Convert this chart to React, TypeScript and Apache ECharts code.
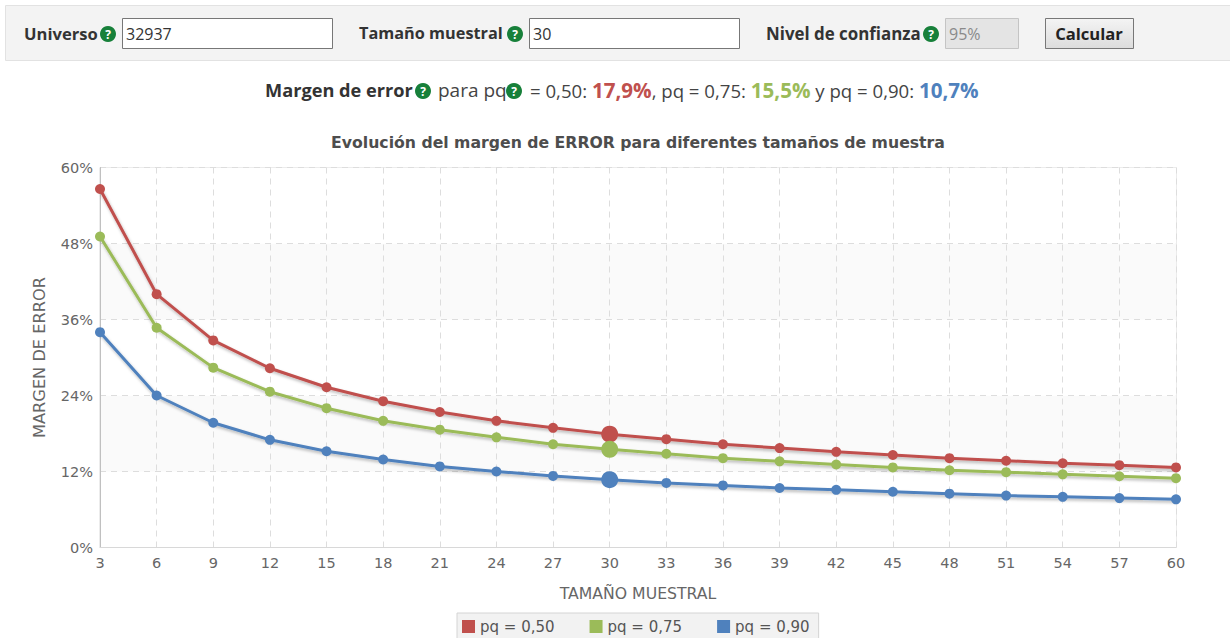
import React, { useEffect, useRef } from "react";
import * as echarts from "echarts";

const sampleSizes = ["3","6","9","12","15","18","21","24","27","30","33","36","39","42","45","48","51","54","57","60"];
const pq50 = [56.6,40.0,32.7,28.3,25.3,23.1,21.4,20.0,18.9,17.9,17.1,16.3,15.7,15.1,14.6,14.1,13.7,13.3,13.0,12.65];
const pq75 = [49.1,34.7,28.4,24.6,22.0,20.0,18.6,17.4,16.3,15.5,14.8,14.1,13.6,13.1,12.65,12.2,11.9,11.55,11.25,10.95];
const pq90 = [34.0,24.0,19.7,17.0,15.2,13.9,12.8,12.0,11.3,10.7,10.2,9.8,9.4,9.1,8.8,8.5,8.2,8.0,7.8,7.6];
const seriesNames = ["pq = 0,50","pq = 0,75","pq = 0,90"];
const seriesColors = ["#c0504d","#9bbb59","#4f81bd"];
const highlightedSize = "30";

const UI_FONT = "'Open Sans', 'Noto Sans', sans-serif";
const CHART_FONT = "'DejaVu Sans', Verdana, sans-serif";

function helpIcon(cx: number, cy: number) {
  return [
    { type: "circle", shape: { cx, cy, r: 8 }, style: { fill: "#17803a" } },
    { type: "text", x: cx, y: cy, style: { text: "?", fill: "#fff", font: `bold 12px ${UI_FONT}`, align: "center", verticalAlign: "middle" } },
  ];
}

function label(text: string, x: number, y: number, size = 16.6) {
  return { type: "text", x, y, style: { text, fill: "#333", font: `bold ${size}px ${UI_FONT}`, verticalAlign: "middle" } };
}

function input(x: number, w: number, text: string, disabled = false) {
  return [
    { type: "rect", shape: { x: x + 0.5, y: 18.5, width: w, height: 30 }, style: { fill: disabled ? "#e4e4e4" : "#fff", stroke: disabled ? "#c4c4c4" : "#777", lineWidth: 1 } },
    { type: "text", x: x + 4, y: 34, style: { text, fill: disabled ? "#8a8a8a" : "#333", font: `16px ${UI_FONT}`, verticalAlign: "middle" } },
  ];
}

function makeSeries(name: string, values: number[], color: string) {
  return {
    name,
    type: "line",
    smooth: false,
    symbol: "circle",
    symbolSize: 10,
    showSymbol: true,
    lineStyle: { color, width: 3, shadowColor: "rgba(0,0,0,0.28)", shadowBlur: 3, shadowOffsetX: 1, shadowOffsetY: 2 },
    itemStyle: { color },
    data: values.map((value, i) => sampleSizes[i] === highlightedSize ? { value, symbolSize: 17 } : value),
  };
}

export default function App() {
  const ref = useRef<HTMLDivElement>(null);
  useEffect(() => {
    document.body.style.margin = "0";
    const chart = echarts.init(ref.current!, null, { renderer: "svg" });
    chart.setOption({
      animation: false,
      backgroundColor: "#fff",
      textStyle: { fontFamily: CHART_FONT },
      title: {
        text: "Evolución del margen de ERROR para diferentes tamaños de muestra",
        left: 638, top: 134, textAlign: "center", padding: 0,
        textStyle: { fontFamily: CHART_FONT, fontSize: 15.7, fontWeight: "bold", color: "#4d4d4d" },
      },
      legend: {
        left: 457, top: 613, itemWidth: 13, itemHeight: 13, itemGap: 35, padding: [6, 9, 6, 5],
        backgroundColor: "#f2f2f2", borderColor: "#d4d4d4", borderWidth: 1, icon: "rect",
        data: seriesNames,
        textStyle: { fontFamily: CHART_FONT, fontSize: 15, color: "#555", padding: [0, 0, 0, 0] },
      },
      grid: { left: 100, right: 54, top: 167.5, bottom: 90.5, show: true, borderColor: "#d8d8d8", borderWidth: 1, backgroundColor: "transparent" },
      xAxis: {
        type: "category", boundaryGap: false, data: sampleSizes,
        name: "TAMAÑO MUESTRAL", nameLocation: "middle", nameGap: 38,
        nameTextStyle: { fontFamily: CHART_FONT, fontSize: 15.7, color: "#666" },
        axisTick: { show: false },
        axisLine: { lineStyle: { color: "#d8d8d8", width: 1 } },
        axisLabel: { interval: 0, color: "#666", fontSize: 14.5, margin: 8, fontFamily: CHART_FONT },
        splitLine: { show: true, interval: 0, lineStyle: { color: "#dddddd", type: [6, 5], width: 1 } },
      },
      yAxis: {
        type: "value", min: 0, max: 60, interval: 12,
        name: "MARGEN DE ERROR", nameLocation: "middle", nameGap: 53, nameRotate: 90,
        nameTextStyle: { fontFamily: CHART_FONT, fontSize: 16.2, color: "#666" },
        axisTick: { show: false },
        axisLine: { show: true, lineStyle: { color: "#c0c0c0", width: 1 } },
        axisLabel: { formatter: "{value}%", color: "#666", fontSize: 14.5, margin: 7, padding: [2, 0, 0, 0], fontFamily: CHART_FONT },
        splitLine: { show: true, lineStyle: { color: "#dddddd", type: [6, 5], width: 1 } },
        splitArea: { show: true, areaStyle: { color: ["#ffffff", "#fafafa"] } },
      },
      series: [
        makeSeries(seriesNames[0], pq50, seriesColors[0]),
        makeSeries(seriesNames[1], pq75, seriesColors[1]),
        makeSeries(seriesNames[2], pq90, seriesColors[2]),
      ],
      graphic: [
        { type: "rect", shape: { x: 5.5, y: 5.5, width: 1226, height: 55 }, style: { fill: "#f3f3f3", stroke: "#e2e2e2", lineWidth: 1 } },
        label("Universo", 24, 33),
        ...helpIcon(108, 34),
        ...input(122, 210, "32937"),
        label("Tamaño muestral", 359, 33, 16.3),
        ...helpIcon(515, 34),
        ...input(529, 210, "30"),
        label("Nivel de confianza", 766, 33, 16.9),
        ...helpIcon(931, 34),
        ...input(945, 73, "95%", true),
        {
          type: "rect", shape: { x: 1045.5, y: 18.5, width: 88, height: 30 },
          style: { stroke: "#777", lineWidth: 1, fill: new echarts.graphic.LinearGradient(0, 0, 0, 1, [{ offset: 0, color: "#f4f4f4" }, { offset: 1, color: "#dcdcdc" }]) },
        },
        { type: "text", x: 1089, y: 33, style: { text: "Calcular", fill: "#222", font: `bold 16.6px ${UI_FONT}`, align: "center", verticalAlign: "middle" } },
        label("Margen de error", 265, 90, 18.2),
        ...helpIcon(423, 91),
        { type: "text", x: 438, y: 90, style: { text: "para pq", fill: "#444", font: `19px ${UI_FONT}`, verticalAlign: "middle" } },
        ...helpIcon(514, 91),
        {
          type: "text", x: 530, y: 90,
          style: {
            text: "{n|= 0,50: }{r|17,9%}{n|, pq = 0,75: }{g|15,5%}{n| y pq = 0,90: }{b|10,7%}",
            verticalAlign: "middle",
            rich: {
              n: { fill: "#444", font: `18.6px ${UI_FONT}` },
              r: { fill: seriesColors[0], font: `bold 20.6px ${UI_FONT}` },
              g: { fill: seriesColors[1], font: `bold 20.6px ${UI_FONT}` },
              b: { fill: seriesColors[2], font: `bold 20.6px ${UI_FONT}` },
            },
          },
        },
      ],
    });
    return () => chart.dispose();
  }, []);
  return <div ref={ref} style={{ width: 1230, height: 638 }} />;
}
